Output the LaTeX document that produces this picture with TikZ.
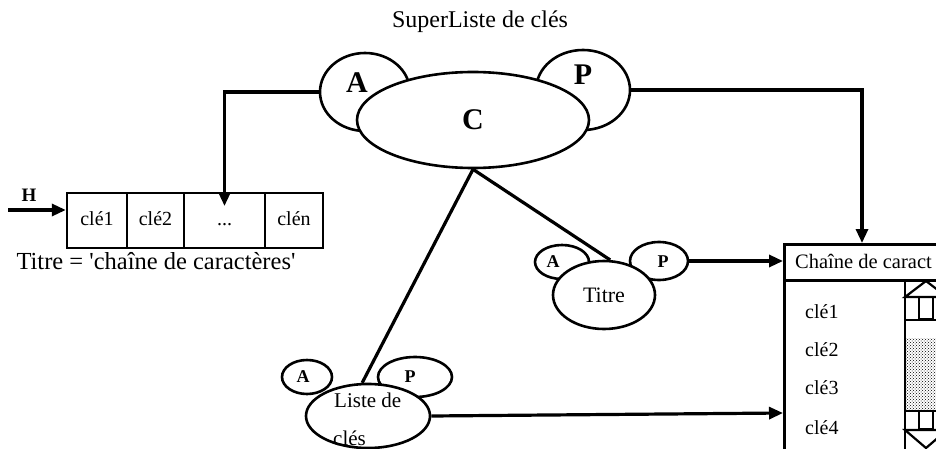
\documentclass[tikz,border=0pt]{standalone}
\usepackage{fontspec}
\setmainfont{Liberation Serif}
\usetikzlibrary{arrows.meta,shapes.geometric,patterns}

\begin{document}
\begin{tikzpicture}[x=1pt,y=-1pt,
  blob/.style={draw,ellipse,line width=2.6pt,fill=white,inner sep=0pt},
  link/.style={line width=3.2pt},
  arr/.style={link,-{Triangle[length=14pt,width=12pt]}},
  cell/.style={draw,line width=2.4pt,minimum height=55pt,inner sep=0pt,
               text height=14pt,text depth=4pt,
               font=\fontsize{20}{24}\selectfont},
  bigtag/.style={font=\bfseries\fontsize{30}{34}\selectfont,inner sep=0pt},
  smalltag/.style={font=\bfseries\fontsize{18}{21}\selectfont,inner sep=0pt},
  label/.style={inner sep=0pt},
  frame/.style={draw,line width=2.6pt,inner sep=0pt}
]
\useasboundingbox (0,0) rectangle (936,449);

% --- title ---
\node[label,font=\fontsize{24}{28}\selectfont] (title) at (480,22) {SuperListe de clés};

% --- super list (A, P, C) ---
\node[blob,minimum width=90pt,minimum height=78pt] (AA) at (365,92) {};
\node[blob,minimum width=94pt,minimum height=80pt] (PP) at (583,90) {};
\node[blob,minimum width=232pt,minimum height=96pt,bigtag] (CC) at (473,120) {C};
\node[bigtag] (AAt) at (357,83) {A};
\node[bigtag] (PPt) at (583,75) {P};

% --- key array ---
\node[cell,minimum width=60pt] (c1) at (97,220.5) {clé1};
\node[cell,minimum width=57pt] (c2) at (155.5,220.5) {clé2};
\node[cell,minimum width=81pt] (c3) at (224.5,220.5) {...};
\node[cell,minimum width=58pt] (c4) at (294,220.5) {clén};
\node[label,font=\bfseries\fontsize{19}{22}\selectfont] (hlab) at (29,195) {H};
\coordinate (hstart) at (8,210);
\node[label,font=\fontsize{24.5}{28}\selectfont] (titre) at (156,261)
  {Titre = \textquotesingle chaîne de caractères\textquotesingle};

% --- Titre object ---
\node[blob,minimum width=54pt,minimum height=34pt] (TA) at (562,262) {};
\node[blob,minimum width=58pt,minimum height=38pt] (TP) at (659,261) {};
\node[blob,minimum width=102pt,minimum height=68pt,font=\fontsize{22}{26}\selectfont] (TT) at (604,295) {Titre};
\node[smalltag] (TAt) at (553,262) {A};
\node[smalltag] (TPt) at (663,262) {P};

% --- Liste de clés object ---
\node[blob,minimum width=50pt,minimum height=34pt] (LA) at (307,377) {};
\node[blob,minimum width=74pt,minimum height=40pt] (LP) at (415,377) {};
\node[blob,minimum width=124pt,minimum height=64pt] (LL) at (368,416) {};
\node[smalltag] (LAt) at (303,377) {A};
\node[smalltag] (LPt) at (410,377) {P};
\node[label,anchor=west,font=\fontsize{21}{25}\selectfont] (LL1) at (334,400) {Liste de};
\node[label,anchor=west,font=\fontsize{21}{25}\selectfont] (LL2) at (333,438) {clés};

% --- list window ---
\begin{scope}
  \clip (0,0) rectangle (936,449);
  \node[frame,anchor=north west,minimum width=210pt,minimum height=36pt] (wtitle) at (783,243) {};
  \node[frame,anchor=north west,minimum width=210pt,minimum height=200pt] (wbody) at (783,279) {};
  \node[label,anchor=west,font=\fontsize{20.5}{24}\selectfont] (wtext) at (795,261) {Chaîne de caract};
  % scroll bar
  \fill[pattern=crosshatch dots] (905,338) rectangle (950,411);
  \draw[line width=2.4pt] (905,279) -- (905,460);
  \draw[line width=2.2pt,line join=miter] (905,297) -- (926,281) -- (947,297) -- cycle;
  \draw[line width=2.2pt] (919,297) rectangle (933,319);
  \draw[line width=2.2pt] (905,320) -- (950,320);
  \draw[line width=2.2pt] (905,411) -- (950,411);
  \draw[line width=2.2pt] (919,411) rectangle (933,429);
  \draw[line width=2.2pt,line join=miter] (905,430) -- (926,448) -- (947,430) -- cycle;
  \foreach \k/\yy in {1/312,2/350,3/388,4/428}
    \node[label,anchor=west,font=\fontsize{20}{24}\selectfont] (item\k) at (805,\yy) {clé\k};
\end{scope}

% --- connectors ---
\coordinate (dotin) at (224.5,206);
\coordinate (wtop) at (862,243);
\coordinate (win2) at (783,413);
\draw[arr] (AA.west) -| (dotin);
\draw[arr] (PP.east) -| (wtop);
\draw[arr] (hstart) -- (hstart -| c1.west);
\draw[link] (CC.south) -- (TT.80);
\draw[link] (CC.south) -- (LL.100);
\draw[arr] (TP.east) -- (TP.east -| wtitle.west);
\draw[arr] (LL.east) -- (win2);
\end{tikzpicture}
\end{document}
